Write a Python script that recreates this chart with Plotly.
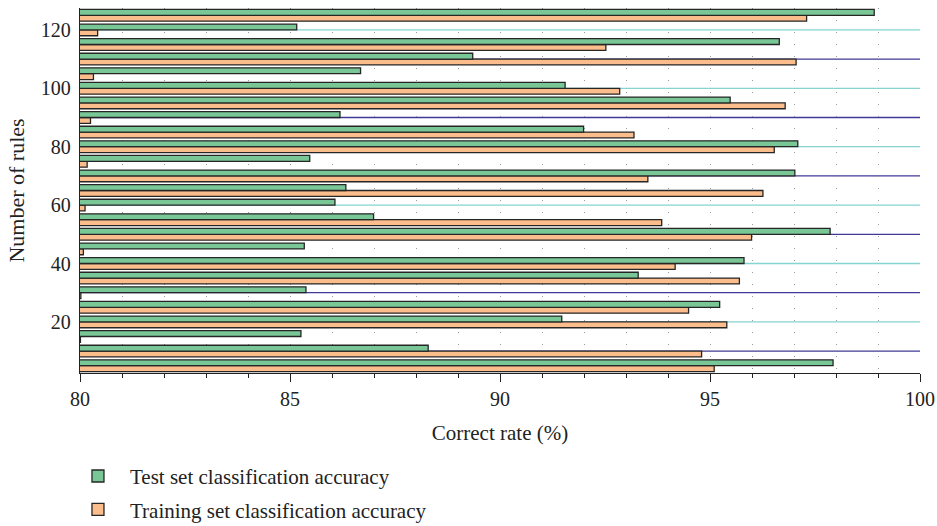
import plotly.graph_objects as go

# ---- data ----
rules = [5, 10, 15, 20, 25, 30, 35, 40, 45, 50, 55, 60, 65,
         70, 75, 80, 85, 90, 95, 100, 105, 110, 115, 120, 125]
test_acc = [97.93, 88.29, 85.26, 91.47, 95.23, 85.38, 93.29, 95.81, 85.34,
            97.86, 86.99, 86.07, 86.33, 97.02, 85.47, 97.09, 91.99, 86.19,
            95.48, 91.55, 86.68, 89.35, 96.65, 85.16, 98.91]
train_acc = [95.10, 94.80, 80.01, 95.40, 94.49, 80.02, 95.70, 94.17, 80.08,
             95.99, 93.85, 80.12, 96.26, 93.52, 80.17, 96.53, 93.19, 80.25,
             96.79, 92.85, 80.32, 97.05, 92.52, 80.42, 97.30]
y_ticks = [20, 40, 60, 80, 100, 120]
x_ticks = [80, 85, 90, 95, 100]
line_levels = [10, 20, 30, 40, 50, 60, 70, 80, 90, 100, 110, 120]

FONT = "Liberation Serif, Times New Roman, serif"
GREEN = "#79c796"
ORANGE = "#fcbd8d"
EDGE = "#262626"
TEAL = "#86d3d1"
NAVY = "#403b98"

fig = go.Figure()
fig.add_trace(go.Bar(
    y=rules, x=train_acc, orientation="h",
    name="Training set classification accuracy",
    marker=dict(color=ORANGE, line=dict(color=EDGE, width=1.3)),
    legendrank=2, legendgroup="train",
))
fig.add_trace(go.Bar(
    y=rules, x=test_acc, orientation="h",
    name="Test set classification accuracy",
    marker=dict(color=GREEN, line=dict(color=EDGE, width=1.3)),
    legendrank=1, legendgroup="test",
))

shapes = []
for lv in line_levels:
    shapes.append(dict(
        type="line", xref="paper", x0=0, x1=1, yref="y", y0=lv, y1=lv,
        line=dict(color=NAVY if (lv // 10) % 2 == 1 else TEAL, width=1.3),
        layer="below",
    ))

fig.update_layout(
    width=937, height=526,
    margin=dict(l=80, r=17, t=8, b=153, autoexpand=False),
    paper_bgcolor="white", plot_bgcolor="white",
    font=dict(family=FONT, size=20, color="#222"),
    barmode="group", bargap=0.2, bargroupgap=0,
    shapes=shapes,
    showlegend=True,
    legend=dict(
        x=-0.0167, xanchor="left", y=-0.227, yanchor="top",
        font=dict(family=FONT, size=21, color="#222"),
        itemwidth=54,
        tracegroupgap=3, traceorder="grouped",
        bgcolor="rgba(0,0,0,0)",
    ),
    xaxis=dict(
        range=[80, 100], tickvals=x_ticks, automargin=False,
        ticks="outside", ticklen=8, tickwidth=1.2, tickcolor="#222",
        ticklabelstandoff=0,
        showline=True, linecolor="#222", linewidth=1.3,
        showgrid=True, gridcolor="#9a9a9a", gridwidth=1, griddash="1px,11px",
        zeroline=False,
        minor=dict(dtick=1, ticks="outside", ticklen=4, tickcolor="#222",
                   showgrid=True, gridcolor="#9a9a9a", griddash="1px,11px"),
        title=dict(text="Correct rate (%)", standoff=16,
                   font=dict(family=FONT, size=21)),
    ),
    yaxis=dict(
        range=[2.5, 127.5], tickvals=y_ticks, automargin=False,
        ticks="", showline=True, linecolor="#222", linewidth=1.3,
        ticklabelstandoff=4,
        showgrid=False, zeroline=False,
        title=dict(text="Number of rules", standoff=10,
                   font=dict(family=FONT, size=22)),
    ),
)

fig.write_html("out.html")
